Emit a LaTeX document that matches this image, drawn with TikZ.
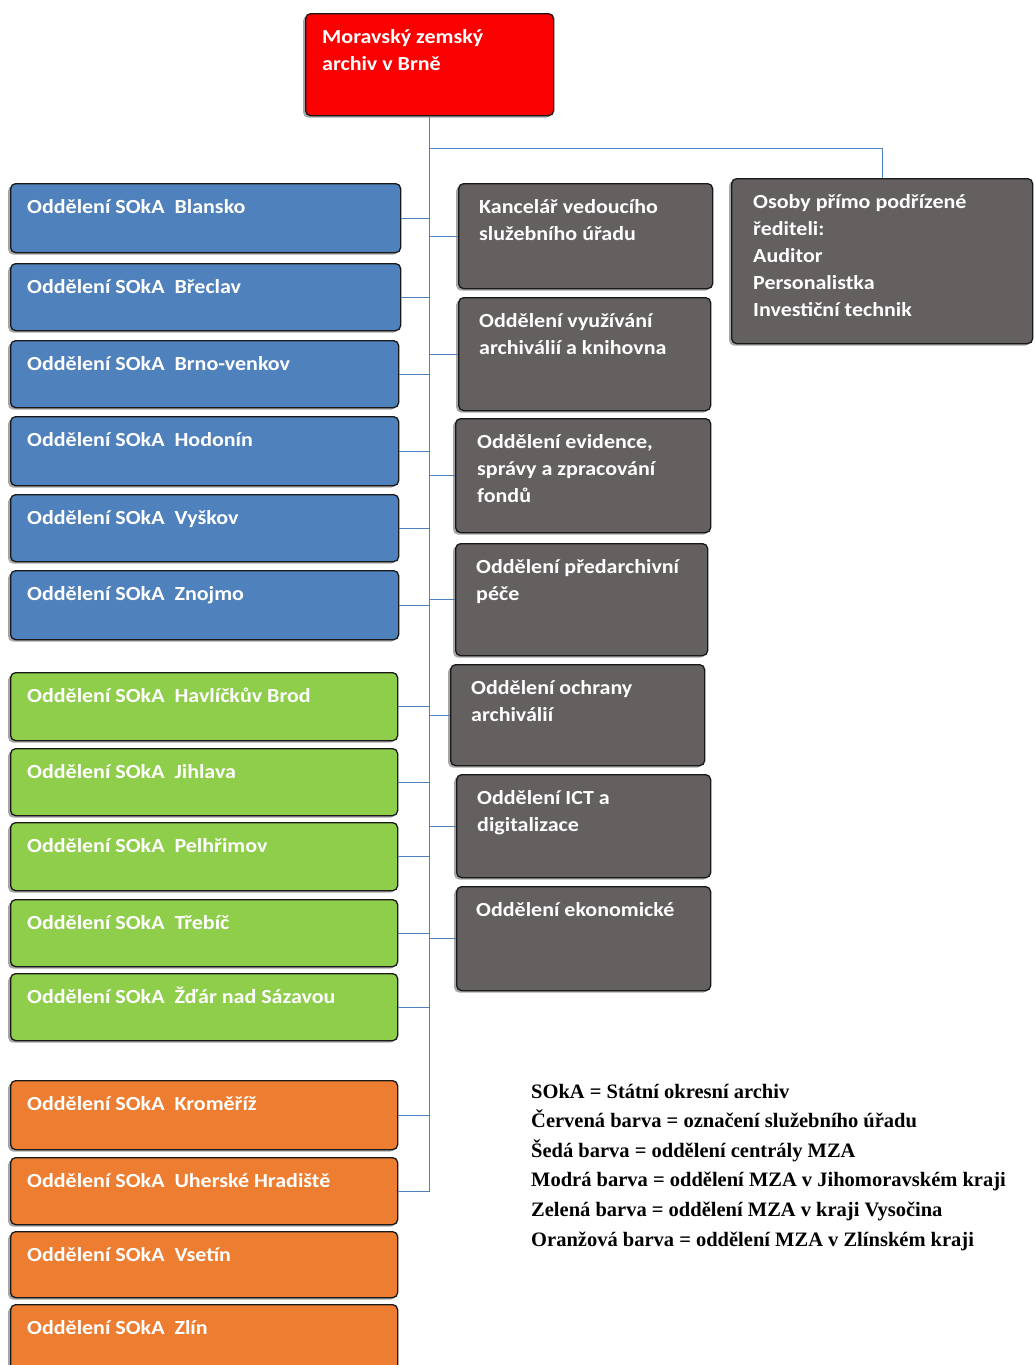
\documentclass[tikz,border=0pt]{standalone}
\usepackage{fontspec}
\setmainfont{Carlito}[FakeStretch=1.1]
\newfontfamily\legendfont{Liberation Serif}
\usetikzlibrary{shadows}
\definecolor{cred}{RGB}{250,0,0}
\definecolor{cblue}{RGB}{79,129,189}
\definecolor{cgreen}{RGB}{143,206,75}
\definecolor{corange}{RGB}{237,125,49}
\definecolor{cgray}{RGB}{99,96,95}
\definecolor{cline}{RGB}{79,129,189}
\tikzset{
  obox/.style={draw=black!90, line width=1.3pt, rounded corners=5pt, inner sep=0pt, anchor=north west,
    drop shadow={shadow xshift=-2.5pt, shadow yshift=-2pt, fill=black, opacity=0.35}},
  otext/.style={text=white, font=\bfseries\fontsize{20}{27}\selectfont, inner sep=0pt},
  conn/.style={draw=cline, line width=0.9pt},
  legend/.style={inner sep=0pt, font=\legendfont\bfseries\fontsize{20.5}{29.6}\selectfont}
}
\newcommand{\orgbox}[8]{%
  \node[obox, fill=#2, minimum width=#5pt, minimum height=#6pt] (#1) at (#3,#4) {};
  \node[otext, anchor=base west] (#1-t) at ([xshift=#7pt, yshift=-30pt]#1.north west) {\parbox[t]{400pt}{\raggedright #8}};
}
\begin{document}
\begin{tikzpicture}[x=1pt, y=-1pt]
\useasboundingbox[fill=white] (0,0) rectangle (1034,1365);
% head
\orgbox{mza}{cred}{305}{13}{248}{102}{17}{Moravský zemský\\archiv v Brně}
% blue
\orgbox{b1}{cblue}{10}{183}{390}{69}{17}{Oddělení SOkA\ \ Blansko}
\orgbox{b2}{cblue}{10}{263}{390}{67}{17}{Oddělení SOkA\ \ Břeclav}
\orgbox{b3}{cblue}{10}{340}{388}{67}{17}{Oddělení SOkA\ \ Brno-venkov}
\orgbox{b4}{cblue}{10}{416}{388}{69}{17}{Oddělení SOkA\ \ Hodonín}
\orgbox{b5}{cblue}{10}{494}{388}{67}{17}{Oddělení SOkA\ \ Vyškov}
\orgbox{b6}{cblue}{10}{570}{388}{69}{17}{Oddělení SOkA\ \ Znojmo}
% green
\orgbox{z1}{cgreen}{10}{672}{387}{68}{17}{Oddělení SOkA\ \ Havlíčkův Brod}
\orgbox{z2}{cgreen}{10}{748}{387}{67}{17}{Oddělení SOkA\ \ Jihlava}
\orgbox{z3}{cgreen}{10}{822}{387}{68}{17}{Oddělení SOkA\ \ Pelhřimov}
\orgbox{z4}{cgreen}{10}{899}{387}{67}{17}{Oddělení SOkA\ \ Třebíč}
\orgbox{z5}{cgreen}{10}{973}{387}{67}{17}{Oddělení SOkA\ \ Žďár nad Sázavou}
% orange
\orgbox{o1}{corange}{10}{1080}{387}{69}{17}{Oddělení SOkA\ \ Kroměříž}
\orgbox{o2}{corange}{10}{1157}{387}{67}{17}{Oddělení SOkA\ \ Uherské Hradiště}
\orgbox{o3}{corange}{10}{1231}{387}{66}{17}{Oddělení SOkA\ \ Vsetín}
\orgbox{o4}{corange}{10}{1304}{387}{75}{17}{Oddělení SOkA\ \ Zlín}
% gray
\orgbox{g1}{cgray}{458}{183}{254}{105}{21}{Kancelář vedoucího\\služebního úřadu}
\orgbox{g2}{cgray}{458}{297}{252}{113}{21}{Oddělení využívání\\archiválií a knihovna}
\orgbox{g3}{cgray}{455}{418}{255}{114}{22}{Oddělení evidence,\\správy a zpracování\\fondů}
\orgbox{g4}{cgray}{455}{543}{252}{112}{21}{Oddělení předarchivní\\péče}
\orgbox{g5}{cgray}{450}{664}{254}{101}{21}{Oddělení ochrany\\archiválií}
\orgbox{g6}{cgray}{456}{774}{254}{103}{21}{Oddělení ICT a\\digitalizace}
\orgbox{g7}{cgray}{456}{886}{254}{104}{20}{Oddělení ekonomické}
\orgbox{os}{cgray}{731}{178}{301}{165}{22}{Osoby přímo podřízené\\řediteli:\\Auditor\\Personalistka\\Investiční technik}
% connectors
\coordinate (br) at (429,148);
\draw[conn] (mza.south) -- (o2.east -| mza.south) -- (o2.east);
\draw[conn] (br) -| (os.north);
\foreach \n in {b1,b2,b3,b4,b5,b6,z1,z2,z3,z4,z5,o1}
  \draw[conn] (\n.east) -- (\n.east -| mza.south);
\foreach \n in {g1,g2,g3,g4,g5,g6,g7}
  \draw[conn] (\n.west) -- (\n.west -| mza.south);
% legend
\node[legend, anchor=base west] (leg) at (531,1098) {\parbox[t]{500pt}{SOkA = Státní okresní archiv\\
Červená barva = označení služebního úřadu\\
Šedá barva = oddělení centrály MZA\\
Modrá barva = oddělení MZA v Jihomoravském kraji\\
Zelená barva = oddělení MZA v kraji Vysočina\\
Oranžová barva = oddělení MZA v Zlínském kraji}};
\end{tikzpicture}
\end{document}
